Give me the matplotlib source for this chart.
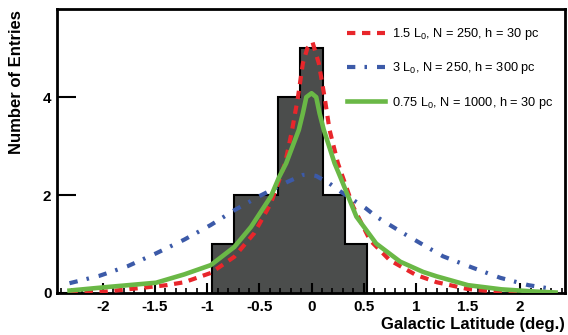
import matplotlib
matplotlib.use("Agg")
import matplotlib.pyplot as plt
from matplotlib.ticker import MultipleLocator

plt.rcParams['font.family'] = ['Liberation Sans', 'DejaVu Sans']
plt.rcParams['mathtext.fontset'] = 'custom'
plt.rcParams['mathtext.rm'] = 'Liberation Sans'
plt.rcParams['mathtext.it'] = 'Liberation Sans:italic'
plt.rcParams['mathtext.bf'] = 'Liberation Sans:bold'

# Histogram data
bin_edges = [-0.955, -0.743, -0.531, -0.318, -0.106, 0.106, 0.318, 0.531]
counts = [1, 2, 2, 4, 5, 2, 1]

# Model curves
red_x = [-2.32, -1.97, -1.65, -1.39, -1.22, -0.965, -0.74, -0.55, -0.39, -0.253, -0.186,
         -0.13, -0.083, -0.04, 0.01, 0.07, 0.125, 0.173, 0.253, 0.40, 0.56, 0.75, 1.0,
         1.2, 1.5, 1.82, 2.1, 2.34]
red_y = [0.0, 0.03, 0.10, 0.16, 0.22, 0.41, 0.74, 1.22, 1.83, 2.65, 3.33,
         4.00, 4.69, 5.00, 5.12, 4.69, 4.00, 3.33, 2.65, 1.76, 1.08, 0.67, 0.37,
         0.22, 0.08, 0.02, 0.0, 0.0]

blue_x = [-2.32, -2.035, -1.76, -1.49, -1.22, -0.965, -0.74, -0.48, -0.23, -0.083, -0.02,
          0.045, 0.17, 0.28, 0.52, 0.62, 0.88, 1.13, 1.26, 1.54, 1.81, 2.08, 2.32]
blue_y = [0.20, 0.35, 0.55, 0.81, 1.09, 1.39, 1.69, 2.00, 2.27, 2.41, 2.42,
          2.39, 2.24, 2.07, 1.73, 1.56, 1.22, 0.91, 0.75, 0.52, 0.31, 0.16, 0.08]

green_x = [-2.32, -1.97, -1.49, -1.22, -0.965, -0.74, -0.58, -0.39, -0.31, -0.243, -0.122,
           -0.083, -0.05, 0.0, 0.045, 0.077, 0.118, 0.221, 0.276, 0.43, 0.62, 0.85, 1.07,
           1.2, 1.5, 1.82, 2.14, 2.34]
green_y = [0.05, 0.12, 0.21, 0.38, 0.57, 0.94, 1.35, 1.97, 2.37, 2.65, 3.33,
           3.67, 4.00, 4.08, 4.00, 3.67, 3.33, 2.65, 2.37, 1.56, 1.01, 0.64, 0.43,
           0.34, 0.16, 0.075, 0.03, 0.01]

labels = ['1.5 L$_0$, N = 250, h = 30 pc',
          '3 L$_0$, N = 250, h = 300 pc',
          '0.75 L$_0$, N = 1000, h = 30 pc']

fig = plt.figure(figsize=(5.68, 3.35), dpi=100)
ax = fig.add_axes([57/568, 42/335, 508/568, 284/335])

ax.stairs(counts, bin_edges, fill=True, facecolor='#4b4d4c', edgecolor='none', zorder=1)
ax.stairs(counts, bin_edges, fill=False, edgecolor='black', linewidth=1.5, zorder=2)

l1, = ax.plot(red_x, red_y, color='#e8262b', lw=3, linestyle=(0, (2, 1.6)),
              solid_joinstyle='round', zorder=3)
l2, = ax.plot(blue_x, blue_y, color='#3c5aa8', lw=3, linestyle=(0, (2, 2.2, 0.6, 2.4)),
              zorder=3)
l3, = ax.plot(green_x, green_y, color='#6ab846', lw=3.3, linestyle='-',
              solid_joinstyle='round', zorder=4)

leg = ax.legend([l1, l2, l3], labels, loc='upper left', bbox_to_anchor=(0.561, 0.957),
                frameon=False, fontsize=9.2, handlelength=2.95, handletextpad=0.6,
                labelspacing=1.42, borderaxespad=0, borderpad=0.4)

ax.set_xlim(-2.44, 2.43)
ax.set_ylim(0, 5.8)
ax.xaxis.set_minor_locator(MultipleLocator(0.1))
ax.set_yticks([0, 2, 4])
ax.set_xticks([-2, -1.5, -1, -0.5, 0, 0.5, 1, 1.5, 2])
ax.set_xticklabels(['-2', '-1.5', '-1', '-0.5', '0', '0.5', '1', '1.5', '2'])
ax.tick_params(axis='x', which='major', direction='in', length=7, width=1.5, labelsize=11, pad=5)
ax.tick_params(axis='x', which='minor', direction='in', length=3.5, width=1.2)
ax.tick_params(axis='y', which='major', direction='in', length=14, width=1.5, labelsize=11, pad=4)
for lab in ax.get_xticklabels() + ax.get_yticklabels():
    lab.set_fontweight('bold')
for s in ax.spines.values():
    s.set_linewidth(2)

fig.text(565/568, 11/335, 'Galactic Latitude (deg.)', ha='right', va='center',
         fontsize=12, fontweight='bold')
fig.text(17/568, 1 - 10/335, 'Number of Entries', rotation=90, ha='center', va='top',
         fontsize=12, fontweight='bold')

fig.savefig('out.png', dpi=100)
